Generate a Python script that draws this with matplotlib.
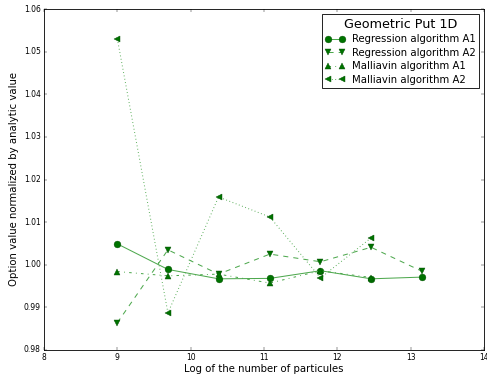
import matplotlib
matplotlib.use("Agg")
import matplotlib.pyplot as plt

plt.style.use("classic")

x_full = [9.0, 9.69, 10.38, 11.08, 11.77, 12.46, 13.15]
reg_a1 = [1.0049, 0.9989, 0.9967, 0.9968, 0.9986, 0.9967, 0.9971]
reg_a2 = [0.9864, 1.0035, 0.9978, 1.0025, 1.0007, 1.0041, 0.9985]
mal_a1 = [0.9984, 0.9974, 0.9978, 0.9957, 0.9986, 0.9970]
mal_a2 = [1.0530, 0.9887, 1.0159, 1.0112, 0.9969, 1.0063]

labels = ["Regression algorithm A1", "Regression algorithm A2",
          "Malliavin algorithm A1", "Malliavin algorithm A2"]
title = "Geometric Put 1D"

dpi = 61
fig = plt.figure(figsize=(487 / dpi, 374 / dpi), dpi=dpi)
fig.patch.set_facecolor("white")
ax = fig.add_axes([44 / 487, 24 / 374, 440 / 487, 341 / 374])

line_c = (0.3, 0.66, 0.3)
mfc = (0.0, 0.45, 0.0)
mec = (0.0, 0.3, 0.0)
kw = dict(color=line_c, mfc=mfc, mec=mec, markersize=8, linewidth=1.2)

ax.plot(x_full, reg_a1, "o-", label=labels[0], **kw)
ax.plot(x_full, reg_a2, "v--", label=labels[1], **kw)
ax.plot(x_full[:len(mal_a1)], mal_a1, "^-.", label=labels[2], **kw)
ax.plot(x_full[:len(mal_a2)], mal_a2, "<:", label=labels[3], **kw)

ax.set_xlim(8, 14)
ax.set_ylim(0.98, 1.06)
ax.set_xticks(range(8, 15))
ax.set_yticks([0.98 + 0.01 * i for i in range(9)])
ax.set_yticklabels(["%.2f" % (0.98 + 0.01 * i) for i in range(9)])
ax.tick_params(labelsize=9)
ax.set_xlabel("Log of the number of particules", fontsize=12, labelpad=2)
ax.set_ylabel("Option value normalized by analytic value", fontsize=12, labelpad=6)

leg = ax.legend(loc="upper right", title=title, fontsize=12, numpoints=2,
                handlelength=2.0, borderaxespad=0.5, labelspacing=0.35,
                handletextpad=0.6, borderpad=0.35)
leg.get_title().set_fontsize(15)

fig.savefig("out.png", dpi=dpi, facecolor="white")
